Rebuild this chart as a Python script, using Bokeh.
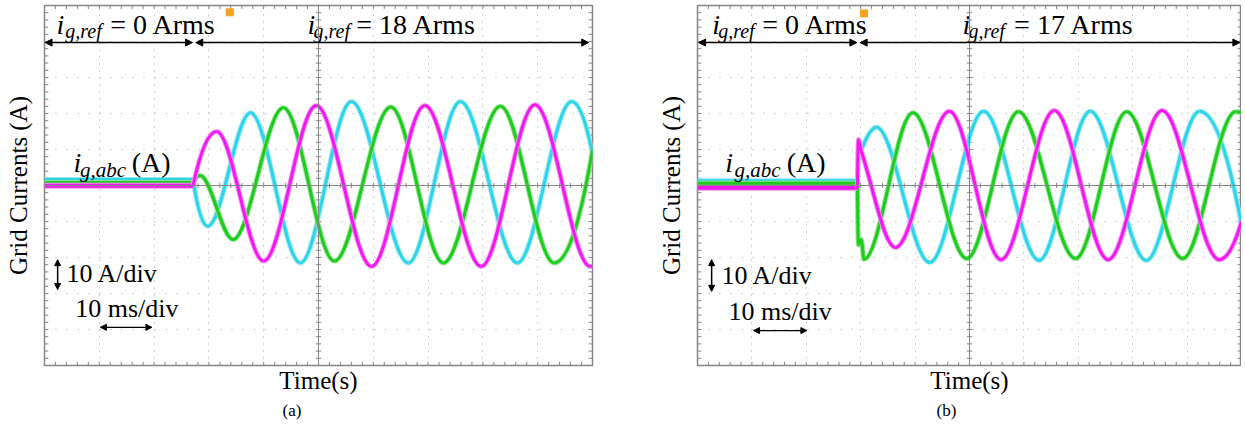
from bokeh.plotting import figure
from bokeh.layouts import row
from bokeh.models import Range1d, FixedTicker, Span, Arrow, NormalHead, Title, ColumnDataSource
from bokeh.core.properties import value
from bokeh.embed import file_html
from bokeh.resources import INLINE

# ------------------------------------------------------------------ data
# time in ms (10 ms/div, 10 div), current in A (10 A/div, 10 div)
# ---- panel (a): i_g,ref 0 -> 18 Arms
a_step_ms = 27.1
a_pre_mag, a_pre_cyan, a_pre_green = -0.1, 1.5, 0.7
a_mag_t = [27.1, 31.4, 40.0, 49.6, 59.7, 69.4, 79.7, 89.5, 99.6, 100.0]
a_mag_i = [-0.1, 15.0, -21.0, 22.2, -22.5, 22.2, -22.5, 22.4, -22.5, -22.4]
a_cyan_t = [27.1, 29.8, 37.6, 46.7, 56.0, 66.4, 75.9, 86.3, 96.2, 100.0]
a_cyan_i = [1.5, -11.3, 20.2, -21.5, 23.3, -21.5, 23.3, -21.5, 23.3, 8.8]
a_green_t = [27.1, 28.4, 34.4, 43.6, 52.9, 63.2, 72.8, 83.2, 93.0, 100.0]
a_green_i = [0.7, 2.8, -15.0, 21.6, -21.0, 21.8, -21.5, 22.0, -21.5, 9.8]

# ---- panel (b): i_g,ref 0 -> 17 Arms
b_step_ms = 29.4
b_pre_mag, b_pre_cyan, b_pre_green = -0.6, 1.2, 0.5
b_mag_t = [29.4, 29.6, 30.1, 36.4, 46.3, 55.8, 65.6, 75.5, 85.4, 95.9, 100.0]
b_mag_i = [-0.6, 12.8, 9.5, -17.2, 20.6, -20.6, 20.8, -20.6, 20.8, -20.6, -10.0]
b_cyan_t = [29.4, 29.7, 32.9, 42.7, 52.6, 62.8, 72.2, 82.5, 92.3, 100.0]
b_cyan_i = [1.2, 8.1, 16.2, -21.4, 20.6, -20.8, 20.6, -20.8, 20.6, -11.0]
b_green_t = [29.4, 29.6, 30.1, 30.6, 39.6, 49.5, 59.0, 69.5, 78.9, 89.2, 98.9, 100.0]
b_green_i = [0.5, -16.5, -15.0, -20.5, 20.2, -20.3, 20.5, -20.3, 20.5, -20.3, 20.5, 20.2]

# ------------------------------------------------------------------ style
FONT = "Liberation Serif"
MAG, MAG_H = "#f01af0", "#f590f5"
CYA, CYA_H = "#2ed4e8", "#98e8f2"
GRN, GRN_H = "#1ecc1e", "#90e290"
GRID = "#a6a6a6"
AXC = "#858585"


def bezier_source(ts, vs):
    """Smooth chain through the read knots (flat tangent at every extremum)."""
    n = len(ts)
    m = []
    for k in range(n):
        if k == 0:
            m.append(2 * (vs[1] - vs[0]) / (ts[1] - ts[0]))
        elif k == n - 1:
            m.append(2 * (vs[k] - vs[k - 1]) / (ts[k] - ts[k - 1]))
        else:
            d0 = vs[k] - vs[k - 1]
            d1 = vs[k + 1] - vs[k]
            m.append(0.0 if d0 * d1 <= 0 else (vs[k + 1] - vs[k - 1]) / (ts[k + 1] - ts[k - 1]))
    d = dict(x0=[], y0=[], x1=[], y1=[], cx0=[], cy0=[], cx1=[], cy1=[])
    for k in range(n - 1):
        h = ts[k + 1] - ts[k]
        d["x0"].append(ts[k]); d["y0"].append(vs[k])
        d["x1"].append(ts[k + 1]); d["y1"].append(vs[k + 1])
        d["cx0"].append(ts[k] + h / 3); d["cy0"].append(vs[k] + m[k] * h / 3)
        d["cx1"].append(ts[k + 1] - h / 3); d["cy1"].append(vs[k + 1] - m[k + 1] * h / 3)
    return ColumnDataSource(d)


def make_panel(frame_w, left_b, right_b, step, pres, phases, ann, letter, letter_off):
    p = figure(frame_width=frame_w, frame_height=360,
               x_range=Range1d(0, 100), y_range=Range1d(-50, 50),
               output_backend="svg", toolbar_location=None,
               min_border_left=left_b, min_border_right=right_b,
               min_border_top=5, min_border_bottom=0)
    p.background_fill_color = "white"
    p.border_fill_color = "white"
    p.outline_line_color = AXC
    p.outline_line_width = 1.5

    # axes: labels only
    for ax, lab in ((p.xaxis[0], "Time(s)"), (p.yaxis[0], "Grid Currents (A)")):
        ax.ticker = FixedTicker(ticks=[])
        ax.axis_line_color = None
        ax.major_tick_line_color = None
        ax.minor_tick_line_color = None
        ax.major_tick_out = 0
        ax.major_label_standoff = 0
        ax.axis_label = lab
        ax.axis_label_text_font = FONT
        ax.axis_label_text_font_style = "normal"
        ax.axis_label_text_font_size = "25px"
        ax.axis_label_text_color = "black"
    p.xaxis.axis_label_standoff = 1
    p.yaxis.axis_label_standoff = 13

    # scope graticule
    p.xgrid.ticker = FixedTicker(ticks=[10, 20, 30, 40, 60, 70, 80, 90])
    p.ygrid.ticker = FixedTicker(ticks=[-40, -30, -20, -10, 10, 20, 30, 40])
    p.xgrid.grid_line_color = GRID
    p.ygrid.grid_line_color = GRID
    p.xgrid.grid_line_dash = "1 6"
    p.ygrid.grid_line_dash = "1 10"
    p.add_layout(Span(location=50, dimension="height", line_color=AXC, line_width=1))
    p.add_layout(Span(location=0, dimension="width", line_color=AXC, line_width=1))
    xs = [v for v in range(2, 100, 2)]
    ys = [v for v in range(-48, 50, 2)]
    p.segment(x0=xs, y0=[-0.7] * len(xs), x1=xs, y1=[0.7] * len(xs), line_color=AXC, line_width=1)
    p.segment(x0=[49.5] * len(ys), y0=ys, x1=[50.5] * len(ys), y1=ys, line_color=AXC, line_width=1)
    p.segment(x0=xs, y0=[-50] * len(xs), x1=xs, y1=[-49] * len(xs), line_color=AXC, line_width=1)
    p.segment(x0=xs, y0=[50] * len(xs), x1=xs, y1=[49] * len(xs), line_color=AXC, line_width=1)
    p.segment(x0=[0] * len(ys), y0=ys, x1=[0.7] * len(ys), y1=ys, line_color=AXC, line_width=1)
    p.segment(x0=[100] * len(ys), y0=ys, x1=[99.3] * len(ys), y1=ys, line_color=AXC, line_width=1)

    # traces
    for (ts, vs), pre, (core, halo) in zip(phases, pres, ((CYA, CYA_H), (GRN, GRN_H), (MAG, MAG_H))):
        p.segment(x0=[0], y0=[pre], x1=[step], y1=[pre], line_color=halo, line_width=6)
        p.segment(x0=[0], y0=[pre], x1=[step], y1=[pre], line_color=core, line_width=4)
        src = bezier_source(ts, vs)
        p.bezier(x0="x0", y0="y0", x1="x1", y1="y1", cx0="cx0", cy0="cy0", cx1="cx1", cy1="cy1",
                 source=src, line_color=halo, line_width=5)
        p.bezier(x0="x0", y0="y0", x1="x1", y1="y1", cx0="cx0", cy0="cy0", cx1="cx1", cy1="cy1",
                 source=src, line_color=core, line_width=3)

    # trigger marker
    p.scatter(x=[ann["trig"][0]], y=[ann["trig"][1]], marker="square", size=7,
              fill_color="#f5a020", line_color="#f5a020")

    # annotations
    def txt(x, y, s, size, style="normal"):
        p.text(x=[x], y=[y], text=[s], text_font=value(FONT), text_font_size=value(size),
               text_font_style=style, text_color="black", text_baseline="middle",
               text_align="left")

    for (xi, xs_, xe, y_main, y_sub, rest) in ann["refs"]:
        txt(xi, y_main, "i", "28px", "italic")
        txt(xs_, y_sub, "g,ref", "20px", "italic")
        txt(xe, y_main, rest, "28px")
    xi, xs_, xe = ann["abc"]
    txt(xi, 6.4, "i", "28px", "italic")
    txt(xs_, 4.4, "g,abc", "21px", "italic")
    txt(xe, 6.4, "(A)", "28px")

    for (x0, x1) in ann["arrows"]:
        p.add_layout(Arrow(x_start=x0, y_start=39.7, x_end=x1, y_end=39.7,
                           line_color="black", line_width=1.5,
                           start=NormalHead(size=7, fill_color="black", line_color="black"),
                           end=NormalHead(size=7, fill_color="black", line_color="black")))
    vx, vy0, vy1 = ann["vdiv"]
    p.add_layout(Arrow(x_start=vx, y_start=vy0, x_end=vx, y_end=vy1, line_color="black", line_width=1.5,
                       start=NormalHead(size=6, fill_color="black", line_color="black"),
                       end=NormalHead(size=6, fill_color="black", line_color="black")))
    hx0, hx1, hy = ann["hdiv"]
    p.add_layout(Arrow(x_start=hx0, y_start=hy, x_end=hx1, y_end=hy, line_color="black", line_width=1.2,
                       start=NormalHead(size=6, fill_color="black", line_color="black"),
                       end=NormalHead(size=6, fill_color="black", line_color="black")))
    tx, ty = ann["adiv"]
    txt(tx, ty, "10 A/div", "26px")
    tx, ty = ann["msdiv"]
    txt(tx, ty, "10 ms/div", "26px")

    p.add_layout(Title(text=letter, align="left", offset=letter_off, text_font=FONT,
                       text_font_size="17px", text_font_style="normal", text_color="black",
                       standoff=4), "below")
    return p


ann_a = dict(
    trig=(33.8, 48.1),
    refs=[(2.2, 3.8, 12.0, 44.7, 42.8, "= 0 Arms"), (48.0, 49.1, 56.9, 44.7, 42.8, "= 18 Arms")],
    abc=(5.3, 6.5, 15.9),
    arrows=[(0.1, 27.0), (27.6, 99.3)],
    vdiv=(2.4, -20.6, -28.9),
    hdiv=(10.2, 19.6, -39.4),
    adiv=(4.0, -24.4),
    msdiv=(5.6, -34.2),
)
ann_b = dict(
    trig=(30.6, 47.8),
    refs=[(2.7, 3.8, 11.9, 44.7, 42.8, "= 0 Arms"), (48.7, 49.8, 58.2, 44.7, 42.8, "= 17 Arms")],
    abc=(5.1, 6.8, 16.4),
    arrows=[(0.2, 29.3), (29.9, 99.7)],
    vdiv=(2.6, -20.6, -29.4),
    hdiv=(10.3, 20.1, -40.3),
    adiv=(4.4, -25.0),
    msdiv=(5.7, -35.0),
)

pa = make_panel(548, 44, 61, a_step_ms, (a_pre_cyan, a_pre_green, a_pre_mag),
                ((a_cyan_t, a_cyan_i), (a_green_t, a_green_i), (a_mag_t, a_mag_i)),
                ann_a, "(a)", 238)
pb = make_panel(544, 44, 0, b_step_ms, (b_pre_cyan, b_pre_green, b_pre_mag),
                ((b_cyan_t, b_cyan_i), (b_green_t, b_green_i), (b_mag_t, b_mag_i)),
                ann_b, "(b)", 239)

layout = row(pa, pb)
open("out.html", "w").write(file_html(layout, INLINE))
